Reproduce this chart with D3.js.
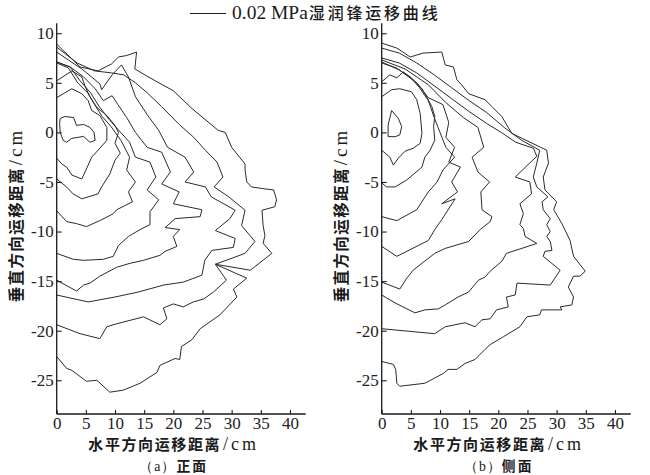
<!DOCTYPE html>
<html><head><meta charset="utf-8">
<script src="https://cdn.jsdelivr.net/npm/d3@7"></script>
<style>
body{margin:0;background:#fff;}
svg{display:block;}
.tick text{font-family:"Liberation Serif","Times New Roman",serif;font-size:17px;fill:#222;}
.cjk{font-family:"Noto Sans CJK SC",sans-serif;font-weight:700;}
.cjkm{font-family:"Noto Sans CJK SC",sans-serif;font-weight:500;}
.ser{font-family:"Liberation Serif",serif;font-weight:400;}
</style></head>
<body>
<svg id="c" width="650" height="475"></svg>
<script>
// ---- data (cm) ----
const xTicks = [0,5,10,15,20,25,30,35,40];
const yTicks = [10,5,0,-5,-10,-15,-20,-25];
const legendLabel = "0.02 MPa";
const legendCJK = "湿润锋运移曲线";
const xTitle = "水平方向运移距离";
const yTitle = "垂直方向运移距离";
const unitLabel = "/cm";
const panelNames = ["正面","侧面"];
const panelTags = ["a","b"];

// panel (a) front
const frontA1 = [[0.6,1.4],[1.4,1.6],[2.9,1.5],[3.4,0.7],[4.6,0.8],[5.7,0.5],[6.4,0.0],[6.6,-0.8],[5.7,-1.0],[4.6,-0.4],[3.7,-0.5],[2.6,-0.6],[1.7,-1.0],[1.1,-0.8],[0.6,0.0],[0.5,0.9],[0.6,1.4]];
const frontA2 = [[0,3.5],[2.6,4.4],[4.3,3.9],[5.4,3.2],[6.0,2.2],[7.4,1.7],[8.6,0.5],[8.6,-0.8],[7.4,-1.6],[6.0,-2.5],[5.4,-3.3],[4.3,-4.7],[2.6,-4.3],[1.7,-3.5],[0.9,-3.2],[0,-2.6]];
const frontA3 = [[0,5.2],[2.6,6.2],[4.3,5.6],[4.9,4.6],[5.7,3.6],[6.9,2.5],[8.6,1.7],[10.0,0.7],[10.6,0.0],[10.0,-1.1],[10.9,-2.1],[10.0,-2.8],[9.1,-4.2],[7.7,-5.5],[7.1,-6.2],[4.3,-6.7],[2.8,-6.2],[1.7,-5.5],[0,-4.7]];
const frontA4 = [[0,7.0],[2.0,6.5],[3.6,5.0],[5.3,4.0],[6.5,2.8],[7.8,1.6],[9.3,0.6],[11.0,-0.8],[12.5,-2.5],[12.0,-3.8],[13.5,-5.0],[12.3,-6.0],[13.0,-7.0],[10.3,-7.8],[9.7,-8.2],[7.4,-8.9],[5.1,-9.5],[3.4,-9.2],[1.7,-9.0],[0,-7.9]];
const frontA5 = [[0,7.1],[2.3,6.6],[4.0,5.2],[5.8,4.0],[7.3,2.6],[9.0,1.3],[10.5,0.3],[12.5,-1.0],[13.5,-2.5],[16.0,-3.0],[17.0,-4.5],[15.5,-5.8],[17.5,-6.8],[16.0,-8.0],[16.0,-9.3],[14.3,-9.8],[12.3,-10.5],[10.6,-11.4],[9.7,-12.5],[8.0,-12.8],[4.6,-12.9],[2.85,-12.8],[0,-12.2]];
const frontA6 = [[0,7.1],[2.3,6.6],[4.6,5.6],[6.6,4.4],[8.0,3.2],[9.5,3.7],[10.5,2.8],[12.0,1.5],[13.5,0.0],[15.5,-1.5],[18.0,-2.0],[19.5,-4.0],[18.0,-5.2],[21.0,-6.0],[20.0,-7.2],[24.9,-7.8],[24.6,-8.5],[20.3,-8.7],[18.6,-9.6],[21.1,-9.8],[20.0,-10.5],[20.6,-11.5],[18.6,-12.0],[17.7,-12.4],[14.9,-12.9],[12.6,-13.2],[10.3,-13.6],[7.4,-14.5],[5.7,-15.2],[4.6,-15.4],[3.4,-16.0],[0,-14.9]];
const frontA7 = [[0,8.1],[2.0,7.3],[4.3,6.4],[7.4,4.9],[7.7,4.3],[9.5,5.8],[11.1,6.8],[12.3,5.6],[13.5,3.6],[15.5,1.8],[17.5,0.2],[19.0,-1.5],[22.0,-2.5],[23.5,-4.0],[22.0,-5.0],[25.5,-5.5],[26.5,-6.5],[30.6,-7.85],[29.7,-8.7],[27.2,-9.9],[30.6,-10.7],[30.3,-11.6],[26.6,-11.9],[25.4,-12.9],[24.9,-14.4],[21.7,-15.1],[18.3,-15.4],[14.0,-16.1],[10.0,-16.6],[5.4,-17.1],[0,-16.4]];
const frontA8 = [[0,8.6],[3.5,7.0],[6.5,6.2],[9.4,6.0],[11.5,5.8],[13.5,5.0],[15.5,4.0],[18.0,2.6],[21.0,0.8],[23.5,-0.5],[25.5,-1.8],[27.5,-3.0],[28.5,-4.5],[27.0,-5.5],[29.5,-6.5],[32.3,-7.85],[31.7,-9.4],[34.0,-11.0],[32.3,-12.2],[27.2,-13.3],[29.1,-14.9],[26.9,-16.1],[25.2,-16.8],[23.4,-17.1],[21.7,-17.6],[20.0,-17.3],[18.3,-17.7],[18.9,-18.8],[17.7,-19.4],[14.9,-18.6],[10.3,-19.3],[8.6,-19.6],[7.4,-20.8],[4.0,-20.3],[0,-19.4]];
const frontA9 = [[0,8.9],[4.0,6.6],[7.1,6.2],[9.4,6.9],[10.6,7.6],[12.0,7.75],[13.7,8.1],[13.4,6.4],[15.4,5.7],[17.2,5.1],[20.0,4.2],[23.2,2.4],[27.7,0.2],[28.9,0.0],[30.0,-1.5],[32.3,-3.2],[32.3,-3.8],[32.6,-5.0],[33.4,-5.5],[35.7,-5.7],[37.2,-5.8],[37.7,-6.8],[37.4,-7.5],[35.2,-7.85],[35.4,-9.4],[35.7,-10.4],[35.4,-11.2],[36.9,-12.2],[33.2,-13.9],[27.2,-13.3],[32.6,-14.7],[30.3,-15.8],[30.9,-16.6],[28.0,-18.4],[24.6,-19.8],[23.2,-20.9],[21.4,-21.6],[21.1,-22.9],[20.3,-22.8],[17.7,-23.5],[17.2,-24.2],[14.3,-25.3],[11.4,-26.0],[9.1,-26.2],[6.9,-25.0],[5.1,-25.1],[2.6,-24.0],[1.7,-23.8],[0,-22.6]];

// panel (b) side
const sideB1 = [[1.7,2.2],[2.85,1.42],[3.43,0.58],[3.1,-0.26],[2.3,-0.43],[1.1,-0.43],[1.1,0.75],[1.7,2.2]];
const sideB2 = [[0,3.6],[1.7,4.3],[3.1,4.4],[5.1,4.1],[6.0,3.3],[6.6,1.9],[6.9,-0.1],[6.6,-1.1],[5.4,-1.6],[4.0,-1.9],[2.85,-2.6],[2.0,-3.3],[1.4,-2.5],[0,-1.8]];
const sideB3 = [[0,5.1],[1.4,5.8],[2.6,5.5],[3.7,6.1],[5.1,5.5],[6.9,4.4],[7.7,3.6],[8.6,2.6],[9.1,1.6],[8.9,0.6],[9.1,-0.8],[8.3,-1.8],[7.4,-2.5],[6.9,-3.5],[5.7,-4.1],[4.3,-4.8],[2.3,-5.5],[0.85,-5.5],[0,-5.1]];
const sideB4 = [[0,7.0],[2.5,6.5],[5.0,5.5],[6.5,4.5],[8.0,3.2],[9.0,1.5],[10.0,0.0],[11.0,-1.5],[12.5,-2.5],[10.5,-3.8],[9.5,-5.0],[8.0,-6.0],[6.0,-7.8],[2.6,-8.9],[0,-8.5]];
const sideB5 = [[0,7.1],[3.0,6.3],[6.0,5.0],[8.0,3.5],[10.5,2.8],[11.5,1.0],[11.0,-0.5],[12.5,-1.5],[11.5,-3.0],[13.5,-3.5],[12.0,-5.0],[13.0,-6.0],[10.3,-7.2],[12.6,-6.7],[10.3,-8.8],[9.1,-9.8],[8.0,-10.9],[6.3,-11.4],[2.6,-12.5],[0,-11.5]];
const sideB6 = [[0,7.3],[4.0,6.4],[8.0,4.8],[11.0,3.0],[14.0,1.5],[16.5,0.5],[17.5,-1.5],[15.5,-2.5],[16.5,-4.0],[18.5,-5.0],[17.0,-6.0],[17.2,-7.8],[18.9,-8.5],[18.6,-9.0],[16.9,-9.8],[14.9,-11.0],[10.9,-11.7],[9.1,-12.2],[6.9,-13.2],[5.4,-13.9],[4.3,-14.7],[3.1,-15.8],[0,-15.1]];
const sideB7 = [[0,7.5],[3.0,7.0],[6.0,6.0],[9.0,4.7],[12.0,3.4],[15.0,2.1],[18.0,0.9],[20.5,0.0],[23.0,-1.0],[26.0,-1.6],[26.6,-2.4],[22.9,-4.5],[25.4,-5.0],[25.7,-6.2],[23.7,-7.2],[24.3,-8.2],[23.7,-9.3],[24.3,-9.7],[24.6,-10.5],[26.6,-11.2],[21.4,-12.2],[20.6,-13.0],[18.6,-14.0],[17.7,-14.6],[16.6,-14.9],[14.9,-16.1],[13.1,-16.6],[10.9,-17.4],[9.7,-17.8],[7.4,-17.9],[5.7,-18.2],[2.3,-17.2],[0,-16.4]];
const sideB8 = [[0,8.5],[3.0,8.0],[6.0,7.0],[9.0,5.8],[12.0,4.5],[15.0,3.2],[18.0,2.0],[21.0,0.5],[24.0,-0.8],[27.1,-1.8],[26.6,-3.1],[26.0,-4.5],[26.6,-5.5],[28.5,-6.5],[27.5,-7.0],[27.7,-7.8],[28.9,-8.7],[28.3,-9.3],[28.9,-10.0],[28.3,-10.5],[28.9,-11.0],[29.2,-11.9],[28.0,-12.0],[27.7,-12.5],[30.6,-13.9],[28.9,-15.4],[23.2,-15.2],[22.9,-16.4],[21.4,-16.6],[21.7,-17.6],[19.7,-17.9],[18.6,-18.8],[17.2,-18.9],[16.0,-19.6],[14.3,-19.2],[10.9,-19.6],[9.1,-20.3],[0,-19.8]];
const sideB9 = [[0,9.0],[2.6,8.5],[4.9,7.6],[7.1,8.0],[10.3,8.1],[10.9,6.8],[12.3,6.6],[12.9,5.3],[13.7,4.8],[14.9,3.9],[17.7,3.3],[18.9,2.6],[20.6,1.6],[22.3,-0.1],[28.3,-1.8],[28.6,-3.1],[27.7,-4.5],[28.0,-5.8],[30.0,-7.0],[29.5,-7.8],[30.9,-9.2],[32.3,-10.9],[32.9,-12.5],[34.9,-14.0],[34.0,-14.5],[32.9,-14.5],[32.0,-15.6],[32.9,-16.6],[32.6,-17.4],[30.6,-17.6],[30.9,-17.9],[27.4,-17.9],[27.1,-18.4],[24.9,-18.6],[23.7,-19.6],[20.9,-20.6],[18.6,-21.4],[17.7,-21.9],[16.0,-22.9],[14.3,-23.3],[12.9,-23.9],[11.4,-23.9],[10.6,-24.3],[7.4,-25.3],[3.1,-25.6],[2.6,-25.3],[2.4,-23.9],[2.0,-23.4],[0,-23.1]];

const panelA = [frontA1,frontA2,frontA3,frontA4,frontA5,frontA6,frontA7,frontA8,frontA9];
const panelB = [sideB1,sideB2,sideB3,sideB4,sideB5,sideB6,sideB7,sideB8,sideB9];

// ---- drawing ----
const svg = d3.select("#c");
const x = d3.scaleLinear().domain([0,42.7]).range([0,249]);
const y = d3.scaleLinear().domain([-28.4,11]).range([414,23.3]);
const line = d3.line().x(d=>x(d[0])).y(d=>y(d[1]));
const ink = "#1a1a1a";

function panel(left, curves, tag, name){
  const g = svg.append("g").attr("transform",`translate(${left},0)`);
  g.selectAll("path.front").data(curves).join("path").attr("class","front")
    .attr("d",line).attr("fill","none").attr("stroke","#2a2a2a").attr("stroke-width",1)
    .attr("stroke-linejoin","miter");
  const ya = g.append("g").call(d3.axisLeft(y).tickValues(yTicks).tickSize(-5).tickPadding(3).tickFormat(d=>String(d)));
  const xa = g.append("g").attr("transform","translate(0,414)")
    .call(d3.axisBottom(x).tickValues(xTicks).tickSize(-4).tickPadding(3).tickFormat(d=>String(d)));
  [ya,xa].forEach(a=>{
    a.select(".domain").attr("stroke",ink).attr("stroke-width",1.3);
    a.selectAll(".tick line").attr("stroke",ink).attr("stroke-width",1.1);
  });
  ya.select(".domain").attr("d",`M0,${y(11)}V414`);
  xa.select(".domain").attr("d",`M0,0H${x(42.7)}`);
  // x title
  const t = g.append("text").attr("x",117).attr("y",450.4).attr("text-anchor","middle").attr("fill",ink);
  t.append("tspan").attr("class","cjk").attr("font-size",15).attr("letter-spacing",1.6).text(xTitle);
  t.append("tspan").attr("class","ser").attr("font-size",18).attr("dx",2).attr("letter-spacing",3).text(unitLabel);
  const s = g.append("text").attr("x",117).attr("y",471).attr("text-anchor","middle").attr("fill",ink);
  s.append("tspan").attr("class","ser").attr("font-size",13.8).attr("letter-spacing",1).text("（"+tag+"）");
  s.append("tspan").attr("class","cjk").attr("font-size",13.8).attr("letter-spacing",2).text(name);
  // y title
  const yt = g.append("text").attr("transform",`translate(${-35},215) rotate(-90)`)
    .attr("text-anchor","middle").attr("fill",ink);
  yt.append("tspan").attr("class","cjk").attr("font-size",15.5).attr("letter-spacing",1.4).text(yTitle);
  yt.append("tspan").attr("class","ser").attr("font-size",19).attr("dx",2).attr("letter-spacing",3).text(unitLabel);
}
panel(56.7, panelA, panelTags[0], panelNames[0]);
panel(381.7, panelB, panelTags[1], panelNames[1]);

// legend
svg.append("line").attr("x1",190).attr("x2",226).attr("y1",13.5).attr("y2",13.5).attr("stroke",ink).attr("stroke-width",1);
const lt = svg.append("text").attr("x",232).attr("y",18.8).attr("fill",ink);
lt.append("tspan").attr("class","ser").attr("font-size",19.5).text(legendLabel);
lt.append("tspan").attr("class","cjkm").attr("font-size",16).attr("dx",1).attr("letter-spacing",2.8).text(legendCJK);
</script>
</body></html>
